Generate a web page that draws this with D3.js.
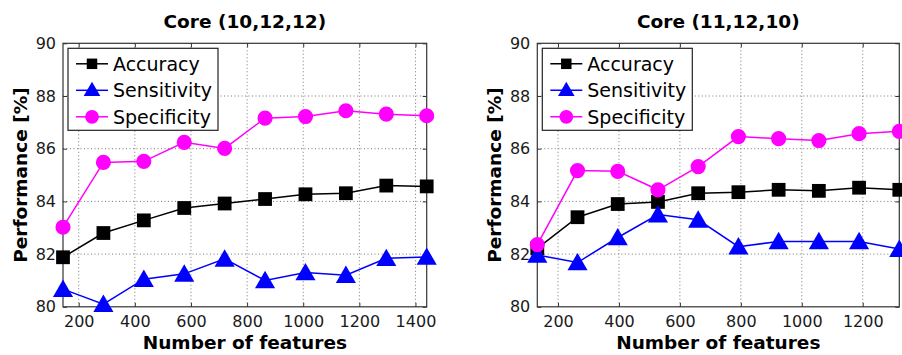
<html>
  <body style="margin:0;background:#fff">
    <style>
      .grid line { stroke: #777; stroke-dasharray: 1,2.5; stroke-width: 1; }
      .frame { fill: none; stroke: #333; stroke-width: 1.2; }
      .tick text { font-family: "DejaVu Sans", sans-serif; font-size: 16px; fill: #1a1a1a; }
      .title { font-family: "DejaVu Sans", sans-serif; font-weight: bold; font-size: 18.5px; }
      .label { font-family: "DejaVu Sans", sans-serif; font-weight: bold; font-size: 18.5px; }
      .legend text { font-family: "DejaVu Sans", sans-serif; font-size: 19px; }
    </style>
    <script src="https://d3js.org/d3.v7.min.js"></script>
    <script type="text/javascript">
      // left panel: Core (10,12,12)
      var featuresA = [144, 288, 432, 576, 720, 864, 1008, 1152, 1296, 1440];
      var accuracyA = [81.88, 82.80, 83.28, 83.75, 83.92, 84.09, 84.27, 84.31, 84.60, 84.57];
      var sensitivityA = [80.67, 80.10, 81.05, 81.25, 81.82, 81.00, 81.30, 81.20, 81.84, 81.89];
      var specificityA = [83.02, 85.48, 85.52, 86.24, 86.01, 87.16, 87.22, 87.44, 87.31, 87.25];
      var xTicksA = [200, 400, 600, 800, 1000, 1200, 1400];

      // right panel: Core (11,12,10)
      var featuresB = [132, 264, 396, 528, 660, 792, 924, 1056, 1188, 1320];
      var accuracyB = [82.22, 83.40, 83.90, 83.98, 84.31, 84.35, 84.44, 84.40, 84.52, 84.44];
      var sensitivityB = [81.97, 81.68, 82.63, 83.50, 83.30, 82.28, 82.48, 82.48, 82.48, 82.19];
      var specificityB = [82.36, 85.17, 85.14, 84.44, 85.32, 86.46, 86.38, 86.31, 86.57, 86.66];
      var xTicksB = [200, 400, 600, 800, 1000, 1200];

      var yTicks = [80, 82, 84, 86, 88, 90];
      var seriesNames = ["Accuracy", "Sensitivity", "Specificity"];
      var titles = ["Core (10,12,12)", "Core (11,12,10)"];
      var xTitle = "Number of features";
      var yTitle = "Performance [%]";

      var colors = ["#000000", "#0000ff", "#ff00ff"];
      var markers = [d3.symbolSquare, d3.symbolTriangle, d3.symbolCircle];
      var markerSize = [190, 175, 180];
      var legendSize = [110, 120, 150];

      var svg = d3.select("body").append("svg")
        .attr("width", 902)
        .attr("height", 355);

      function drawPanel(p) {
        var width = p.right - p.left,
          height = 263.5;
        var g = svg.append("g")
          .attr("transform", "translate(" + p.left + ",43.3)");

        var x = d3.scaleLinear().domain(p.domain).range([0, width]);
        var y = d3.scaleLinear().domain([80, 90]).range([height, 0]);

        // gridlines
        g.append("g")
          .attr("class", "grid")
          .selectAll("line")
          .data(p.xTicks)
          .enter().append("line")
          .attr("x1", function(d) { return x(d); })
          .attr("x2", function(d) { return x(d); })
          .attr("y1", 0)
          .attr("y2", height);
        g.append("g")
          .attr("class", "grid")
          .selectAll("line")
          .data(yTicks.slice(1, -1))
          .enter().append("line")
          .attr("x1", 0)
          .attr("x2", width)
          .attr("y1", function(d) { return y(d); })
          .attr("y2", function(d) { return y(d); });

        // axes with inward ticks (matlab style)
        g.append("g")
          .attr("transform", "translate(0," + height + ")")
          .call(d3.axisBottom(x).tickValues(p.xTicks).tickFormat(d3.format("d"))
            .tickSizeInner(-4).tickSizeOuter(0).tickPadding(9));
        g.append("g")
          .call(d3.axisLeft(y).tickValues(yTicks).tickFormat(d3.format("d"))
            .tickSizeInner(-4).tickSizeOuter(0).tickPadding(7));
        g.append("g")
          .call(d3.axisTop(x).tickValues(p.xTicks).tickSizeInner(-4).tickSizeOuter(0).tickFormat(""));
        g.append("g")
          .attr("transform", "translate(" + width + ",0)")
          .call(d3.axisRight(y).tickValues(yTicks).tickSizeInner(-4).tickSizeOuter(0).tickFormat(""));
        g.selectAll(".domain").remove();
        g.selectAll(".tick line").attr("stroke", "#333");

        g.append("rect")
          .attr("class", "frame")
          .attr("width", width)
          .attr("height", height);

        // series
        p.series.forEach(function(vals, i) {
          var pts = p.features.map(function(f, k) { return [f, vals[k]]; });
          var line = d3.line()
            .x(function(d) { return x(d[0]); })
            .y(function(d) { return y(d[1]); });
          g.append("path")
            .datum(pts)
            .attr("fill", "none")
            .attr("stroke", colors[i])
            .attr("stroke-width", 1.5)
            .attr("d", line);
          g.selectAll(".m" + i)
            .data(pts)
            .enter().append("path")
            .attr("class", "m" + i)
            .attr("transform", function(d) {
              var dy = i == 1 ? 2 : 0;
              return "translate(" + x(d[0]) + "," + (y(d[1]) + dy) + ")";
            })
            .attr("d", d3.symbol().type(markers[i]).size(markerSize[i]))
            .attr("fill", colors[i]);
        });

        // legend
        var lg = g.append("g")
          .attr("class", "legend")
          .attr("transform", "translate(5,5)");
        lg.append("rect")
          .attr("width", 150)
          .attr("height", 82)
          .attr("fill", "#fff")
          .attr("stroke", "#222")
          .attr("stroke-width", 1.2);
        seriesNames.forEach(function(name, i) {
          var cy = 15.5 + i * 26.5;
          lg.append("line")
            .attr("x1", 8).attr("x2", 40)
            .attr("y1", cy).attr("y2", cy)
            .attr("stroke", colors[i])
            .attr("stroke-width", 1.5);
          lg.append("path")
            .attr("transform", "translate(24," + (cy + (i == 1 ? 1 : 0)) + ")")
            .attr("d", d3.symbol().type(markers[i]).size(legendSize[i]))
            .attr("fill", colors[i]);
          lg.append("text")
            .attr("x", 45)
            .attr("y", cy + 7)
            .text(name);
        });

        // titles
        g.append("text")
          .attr("class", "title")
          .attr("x", width / 2)
          .attr("y", -15)
          .attr("text-anchor", "middle")
          .text(p.title);
        g.append("text")
          .attr("class", "label")
          .attr("x", width / 2)
          .attr("y", height + 42)
          .attr("text-anchor", "middle")
          .text(xTitle);
        g.append("text")
          .attr("class", "label")
          .attr("transform", "rotate(-90)")
          .attr("x", -height / 2)
          .attr("y", -36)
          .attr("text-anchor", "middle")
          .text(yTitle);
      }

      drawPanel({
        left: 63, right: 426.7, domain: [144, 1440], xTicks: xTicksA,
        features: featuresA, series: [accuracyA, sensitivityA, specificityA], title: titles[0]
      });
      drawPanel({
        left: 537.3, right: 899.3, domain: [132, 1320], xTicks: xTicksB,
        features: featuresB, series: [accuracyB, sensitivityB, specificityB], title: titles[1]
      });
    </script>
  </body>
</html>
